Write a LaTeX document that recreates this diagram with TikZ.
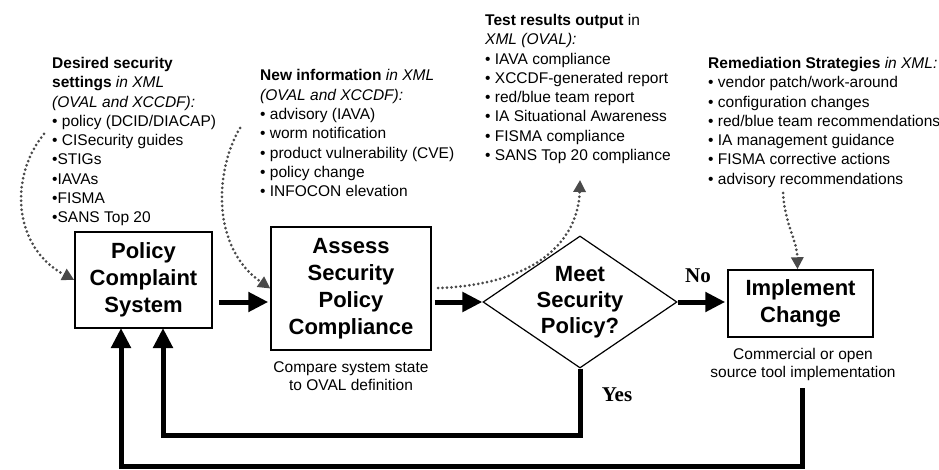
\documentclass[tikz,border=0pt]{standalone}
\usepackage{fontspec}
\setmainfont{Liberation Sans}
\newfontfamily\serifbold{Liberation Serif}
\usetikzlibrary{arrows.meta,shapes.geometric}
\definecolor{dotgray}{HTML}{4A4A4A}
\tikzset{
  procbox/.style={draw, line width=1.5pt, inner sep=0pt, align=center,
    font=\bfseries\fontsize{22}{27}\selectfont},
  listtext/.style={anchor=north west, inner sep=0pt, align=left,
    font=\fontsize{15.5}{19.3}\selectfont},
  captext/.style={inner sep=0pt, align=center, font=\fontsize{15.5}{18.5}\selectfont},
  flow/.style={line width=5pt, -{Triangle[length=20pt,width=19pt]}},
  dotarrow/.style={dotgray, line width=3pt, line cap=round, dash pattern=on 0pt off 4.5pt,
    -{Triangle[length=12pt,width=12pt,line cap=butt]}},
  yesno/.style={inner sep=0pt, font=\serifbold\bfseries\fontsize{21}{21}\selectfont}
}
\begin{document}
\begin{tikzpicture}[x=1pt,y=-1pt]
\useasboundingbox (0,0) rectangle (939,470);

% process boxes
\node[procbox, minimum width=137pt, minimum height=96pt] (pcs) at (143.5,280) {Policy\\Complaint\\System};
\node[procbox, minimum width=160pt, minimum height=123pt] (assess) at (351,288.5) {Assess\\Security\\Policy\\Compliance};
\node[draw, diamond, line width=1.2pt, inner sep=0pt, minimum width=194pt, minimum height=132pt] (dia) at (580,302) {};
\node[inner sep=0pt, align=center, font=\bfseries\fontsize{22}{26}\selectfont] (diatext) at (dia.center) {Meet\\Security\\Policy?};
\node[procbox, minimum width=145pt, minimum height=67pt] (impl) at (800.5,303.5) {Implement\\Change};

% captions
\node[captext] (cap1) at (351,376) {Compare system state\\to OVAL definition};
\node[captext] (cap2) at (803,364.5) {Commercial or open\\source tool implementation};
\node[yesno] (no) at (698,276) {No};
\node[yesno] (yes) at (617,395) {Yes};

% text blocks
\node[listtext] (desired) at (52,57) {\textbf{Desired security}\\\textbf{settings} \textit{in XML}\\\textit{(OVAL and XCCDF):}\\• policy (DCID/DIACAP)\\• CISecurity guides\\•STIGs\\•IAVAs\\•FISMA\\•SANS Top 20};
\node[listtext] (newinfo) at (260,69.5) {\textbf{New information} \textit{in XML}\\\textit{(OVAL and XCCDF):}\\• advisory (IAVA)\\• worm notification\\• product vulnerability (CVE)\\• policy change\\• INFOCON elevation};
\node[listtext] (tests) at (485,14) {\textbf{Test results output} in\\\textit{XML (OVAL):}\\• IAVA compliance\\• XCCDF-generated report\\• red/blue team report\\• IA Situational Awareness\\• FISMA compliance\\• SANS Top 20 compliance};
\node[listtext] (remed) at (708,57) {\textbf{Remediation Strategies} \textit{in XML:}\\• vendor patch/work-around\\• configuration changes\\• red/blue team recommendations\\• IA management guidance\\• FISMA corrective actions\\• advisory recommendations};

% solid flow
\draw[flow, shorten <=6pt, shorten >=2pt] (pcs.east |- dia.west) -- (assess.west |- dia.west);
\draw[flow, shorten <=3pt] (assess.east |- dia.west) -- (dia.west);
\draw[flow, shorten >=2pt] (dia.east) -- (impl.west |- dia.east);

\coordinate (yesturn) at (dia.south |- 0,435);
\draw[flow, line join=miter] (dia.south) -- (yesturn) -- (163,435) -- (163,328);
\coordinate (implout) at (802,388);
\draw[flow, line join=miter] (implout) -- (802,466) -- (121,466) -- (121,328);

% dotted arrows
\coordinate (d1s) at (44,134);
\draw[dotarrow] (d1s) .. controls (8,178) and (14,248) .. (pcs.west);
\coordinate (d2s) at (240,128);
\draw[dotarrow] (d2s) .. controls (214,172) and (212,248) .. (assess.west);
\coordinate (d3s) at (438,288);
\coordinate (d3e) at (580,180);
\draw[dotarrow] (d3s) .. controls (530,285) and (578,245) .. (d3e);
\coordinate (d4s) at (783,193);
\draw[dotarrow] (d4s) .. controls (785,225) and (797,240) .. ([xshift=-3pt]impl.north);
\end{tikzpicture}
\end{document}
